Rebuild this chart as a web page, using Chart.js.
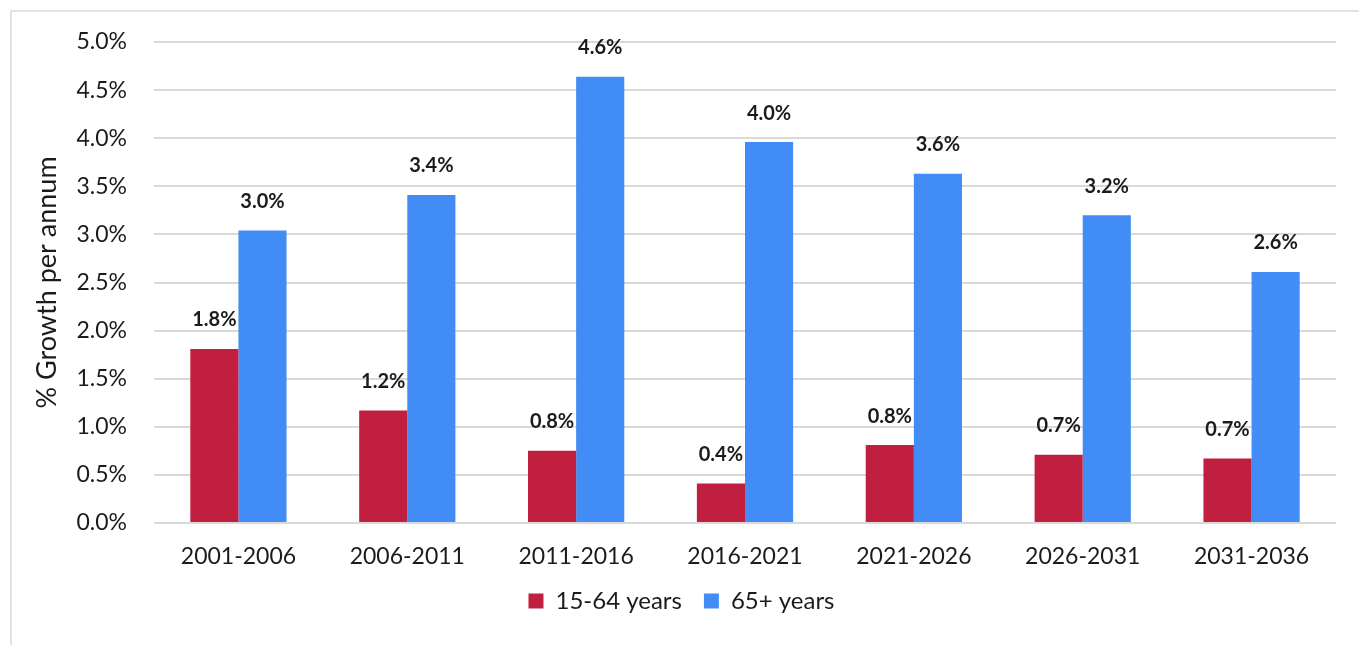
<!DOCTYPE html>
<html lang="en">
<head>
    <meta charset="UTF-8">
    <title>% Growth per annum</title>
    <script src="https://cdn.jsdelivr.net/npm/chart.js"></script>
    <style>
        html, body { margin: 0; padding: 0; background: #fff; overflow: hidden; }
        .frame {
            position: absolute; left: 10px; top: 10px;
            width: 1400px; height: 700px;
            border: 2px solid #e2e2e2;
        }
        #wrap { position: absolute; left: 0; top: 0; width: 1359px; height: 645px; }
    </style>
</head>
<body>
    <div class="frame"></div>
    <div id="wrap"><canvas id="chart"></canvas></div>

    <script>
        // data
        var periods = ['2001-2006', '2006-2011', '2011-2016', '2016-2021', '2021-2026', '2026-2031', '2031-2036'];
        var workingAge = [1.81, 1.17, 0.75, 0.41, 0.81, 0.71, 0.67];
        var elderly = [3.04, 3.41, 4.64, 3.96, 3.63, 3.20, 2.61];
        var seriesNames = ['15-64 years', '65+ years'];
        var yTicks = [0, 0.5, 1, 1.5, 2, 2.5, 3, 3.5, 4, 4.5, 5];

        var textColor = '#1b1b1b';
        var fontFamily = 'Lato, "Open Sans", sans-serif';

        // value labels above each bar
        var valueLabels = {
            id: 'valueLabels',
            afterDatasetsDraw: function (chart) {
                var ctx = chart.ctx;
                ctx.save();
                ctx.font = 'bold 20px ' + fontFamily;
                ctx.fillStyle = textColor;
                ctx.textAlign = 'center';
                ctx.textBaseline = 'middle';
                chart.data.datasets.forEach(function (ds, i) {
                    chart.getDatasetMeta(i).data.forEach(function (bar, j) {
                        ctx.fillText(ds.data[j].toFixed(1) + '%', bar.x, bar.y - 29);
                    });
                });
                ctx.restore();
            }
        };

        var ctx = document.getElementById('chart').getContext('2d');
        var chart = new Chart(ctx, {
            type: 'bar',
            data: {
                labels: periods,
                datasets: [{
                    label: seriesNames[0],
                    data: workingAge,
                    backgroundColor: '#c11f40'
                }, {
                    label: seriesNames[1],
                    data: elderly,
                    backgroundColor: '#428cf5'
                }]
            },
            options: {
                responsive: true,
                maintainAspectRatio: false,
                animation: false,
                categoryPercentage: 0.57,
                barPercentage: 1.0,
                layout: { padding: { left: 27, top: 42, right: 23, bottom: 22 } },
                plugins: {
                    tooltip: { enabled: false },
                    legend: {
                        position: 'bottom',
                        labels: {
                            color: textColor,
                            font: { family: fontFamily, size: 24 },
                            boxWidth: 15,
                            boxHeight: 15,
                            padding: 22
                        }
                    }
                },
                scales: {
                    x: {
                        grid: { display: false },
                        border: { display: false },
                        ticks: {
                            color: textColor,
                            font: { family: fontFamily, size: 23 },
                            padding: 12
                        },
                        afterFit: function (scale) { scale.height = 44; }
                    },
                    y: {
                        min: 0,
                        max: 5,
                        afterBuildTicks: function (scale) {
                            scale.ticks = yTicks.map(function (v) { return { value: v }; });
                        },
                        grid: { color: '#d9d9d9', lineWidth: 2, drawTicks: false },
                        border: { display: false },
                        ticks: {
                            color: textColor,
                            font: { family: fontFamily, size: 23 },
                            padding: 27,
                            callback: function (v) { return v.toFixed(1) + '%'; }
                        },
                        title: {
                            display: true,
                            text: '% Growth per annum',
                            color: textColor,
                            font: { family: fontFamily, size: 27 }
                        },
                        afterFit: function (scale) { scale.width = 127; }
                    }
                }
            },
            plugins: [valueLabels]
        });
    </script>
</body>
</html>
